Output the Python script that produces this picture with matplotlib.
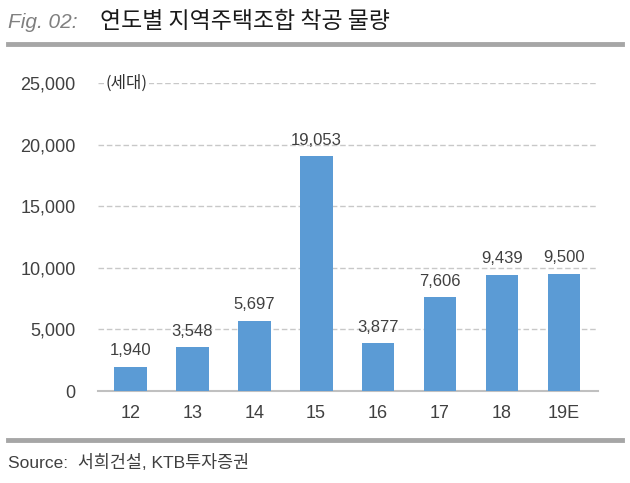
import numpy as np
import matplotlib.pyplot as plt
from matplotlib.lines import Line2D

plt.rcParams['font.family'] = ['Liberation Sans', 'Noto Sans CJK KR', 'DejaVu Sans']

years = ['12', '13', '14', '15', '16', '17', '18', '19E']
units = [1940, 3548, 5697, 19053, 3877, 7606, 9439, 9500]
yticks = [0, 5000, 10000, 15000, 20000, 25000]

fig = plt.figure(figsize=(6.3, 4.83), dpi=100)
ax = fig.add_axes([98/630, 1-391/483, 500/630, 308/483])

x = np.arange(len(years))
ax.bar(x, units, width=0.53, color='#5B9BD5', zorder=3)
for xi, v in zip(x, units):
    ax.text(xi, v + 700, f'{v:,}', ha='center', va='bottom', fontsize=12, color='#404040')

ax.set_xlim(-0.52, 7.55)
ax.set_ylim(0, 25000)
ax.set_yticks(yticks)
ax.set_yticklabels([f'{t:,}' for t in yticks], fontsize=13, color='#404040')
ax.set_xticks(x)
ax.set_xticklabels(years, fontsize=13, color='#404040')
ax.tick_params(length=0, pad=16, axis='y')
ax.tick_params(length=0, pad=10, axis='x')
for t in yticks[1:]:
    ax.axhline(t, color='#C8C8C8', lw=1, ls=(0, (4, 2)), zorder=1)
for s in ['top', 'right', 'left']:
    ax.spines[s].set_visible(False)
ax.spines['bottom'].set_color('#C0C0C0')
ax.spines['bottom'].set_linewidth(1.5)
ax.patch.set_alpha(0)

ax.text(0.015, 25000, '(세대)', fontsize=12, color='#303030', va='center', ha='left',
        transform=ax.get_yaxis_transform(), family=['Noto Sans CJK KR', 'DejaVu Sans'],
        bbox=dict(facecolor='white', edgecolor='none', pad=1), zorder=4)

fig.text(8/630, 1-22/483, 'Fig. 02:', fontsize=15, style='italic', color='#808080', va='center')
fig.text(100/630, 1-22/483, '연도별 지역주택조합 착공 물량', fontsize=16.5, color='#1a1a1a', va='center',
         family=['Noto Sans CJK KR'], weight='medium')
fig.add_artist(Line2D([8/630, 622/630], [1-44/483, 1-44/483], color='#A6A6A6', lw=3.5))
fig.add_artist(Line2D([8/630, 622/630], [1-440/483, 1-440/483], color='#A6A6A6', lw=3.5))
fig.text(8/630, 1-463/483, 'Source:  서희건설, KTB투자증권', fontsize=12.5, color='#404040', va='center',
         family=['Liberation Sans', 'Noto Sans CJK KR'])

fig.savefig('out.png', dpi=100)
